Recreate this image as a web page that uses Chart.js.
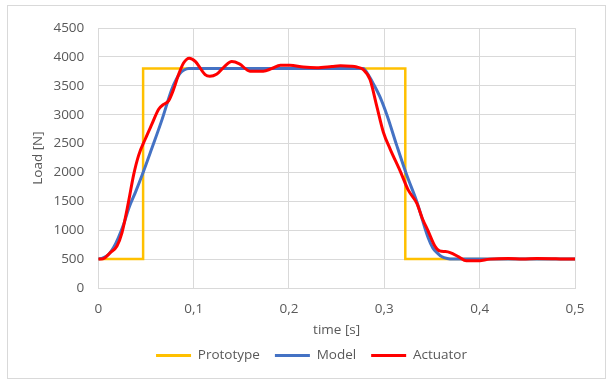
<!DOCTYPE html>
<html>
<head>
<meta charset="utf-8">
<script src="https://cdn.jsdelivr.net/npm/chart.js@4/dist/chart.umd.min.js"></script>
<style>
  html, body { margin: 0; padding: 0; background: #fff; }
  #box {
    position: absolute; left: 7px; top: 5px;
    width: 599px; height: 374px;
    border: 1px solid #d9d9d9; box-sizing: border-box;
  }
  canvas { display: block; }
</style>
</head>
<body>
<div id="box"><canvas id="chart" width="597" height="372"></canvas></div>
<script>
// series
const protoT = [0, 0.047, 0.047, 0.322, 0.322, 0.5]
const protoLoad = [500, 500, 3800, 3800, 500, 500]

const modelT = [0, 0.005, 0.011, 0.016, 0.021, 0.027, 0.032, 0.039, 0.046, 0.056, 0.067, 0.077,
  0.082, 0.086, 0.090, 0.095, 0.278, 0.282, 0.288, 0.295, 0.303, 0.313, 0.3235, 0.334,
  0.346, 0.351, 0.356, 0.360, 0.366, 0.372, 0.5]
const modelLoad = [500, 520, 585, 700, 870, 1120, 1383, 1660, 1955, 2410, 2924, 3438,
  3620, 3724, 3775, 3800, 3800, 3720, 3552, 3325, 2982, 2469, 1955, 1498,
  870, 690, 600, 545, 510, 500, 500]

const actT = [0, 0.005, 0.0126, 0.0196, 0.0248, 0.0318, 0.037, 0.0423, 0.0493, 0.0563, 0.0633,
  0.0685, 0.0737, 0.079, 0.0842, 0.0894, 0.0954, 0.1017, 0.112, 0.117, 0.124, 0.132, 0.140,
  0.148, 0.159, 0.173, 0.182, 0.191, 0.201, 0.215, 0.229, 0.245, 0.254, 0.265, 0.271, 0.278,
  0.285, 0.292, 0.299, 0.306, 0.317, 0.325, 0.334, 0.340, 0.346, 0.353, 0.358, 0.364, 0.369,
  0.378, 0.386, 0.397, 0.411, 0.43, 0.445, 0.46, 0.48, 0.49, 0.5]
const actLoad = [500, 505, 613, 728, 955, 1500, 1955, 2297, 2580, 2840, 3095,
  3180, 3240, 3440, 3695, 3895, 3980, 3925, 3695, 3665, 3700, 3830, 3920,
  3880, 3755, 3755, 3800, 3855, 3855, 3826, 3815, 3835, 3848, 3840, 3826, 3780,
  3609, 3154, 2696, 2410, 2012, 1698, 1469, 1200, 985, 728, 642, 630, 613,
  540, 471, 471, 500, 510, 500, 512, 508, 500, 500]

const seriesNames = ["Prototype", "Model", "Actuator"]
const seriesColors = ["#FFC000", "#4472C4", "#FF0000"]

const xTicks = [0, 0.1, 0.2, 0.3, 0.4, 0.5]
const yTicks = [0, 500, 1000, 1500, 2000, 2500, 3000, 3500, 4000, 4500]

const toXY = (ts, vs) => ts.map((t, i) => ({ x: t, y: vs[i] }))

const textColor = "#595959"
const gridColor = "#d9d9d9"
const font = { family: "'Open Sans', sans-serif", size: 13.5 }

const config = {
    type: "line",
    data: {
        datasets: [
            {
                label: seriesNames[0],
                data: toXY(protoT, protoLoad),
                borderColor: seriesColors[0],
                backgroundColor: seriesColors[0],
                borderWidth: 2.5,
                tension: 0,
                order: 3,
            },
            {
                label: seriesNames[1],
                data: toXY(modelT, modelLoad),
                borderColor: seriesColors[1],
                backgroundColor: seriesColors[1],
                borderWidth: 3,
                cubicInterpolationMode: "monotone",
                order: 2,
            },
            {
                label: seriesNames[2],
                data: toXY(actT, actLoad),
                borderColor: seriesColors[2],
                backgroundColor: seriesColors[2],
                borderWidth: 3,
                cubicInterpolationMode: "monotone",
                order: 1,
            },
        ],
    },
    options: {
        responsive: false,
        animation: false,
        devicePixelRatio: 1,
        elements: { point: { radius: 0 } },
        layout: { padding: { left: 10, right: 0, top: 18, bottom: 5.8 } },
        scales: {
            x: {
                type: "linear",
                min: 0,
                max: 0.5,
                afterBuildTicks: s => { s.ticks = xTicks.map(v => ({ value: v })) },
                afterFit: s => { s.height = 45.7; s.paddingRight = 30 },
                grid: { color: gridColor, drawTicks: false },
                border: { color: gridColor },
                ticks: {
                    padding: 13,
                    color: textColor,
                    font: font,
                    callback: v => v === 0 ? "0" : v.toFixed(1).replace(".", ","),
                },
                title: {
                    display: true,
                    text: "time [s]",
                    color: textColor,
                    font: font,
                    padding: { top: 0, bottom: -4.6 },
                },
            },
            y: {
                min: 0,
                max: 4500,
                afterBuildTicks: s => { s.ticks = yTicks.map(v => ({ value: v })) },
                afterFit: s => { s.width = 80.3 },
                grid: { color: gridColor, drawTicks: false },
                border: { color: gridColor },
                ticks: {
                    padding: 14,
                    color: textColor,
                    font: font,
                    callback: v => String(v),
                },
                title: {
                    display: true,
                    text: "Load [N]",
                    color: textColor,
                    font: font,
                    padding: { top: 12.2, bottom: 0 },
                },
            },
        },
        plugins: {
            tooltip: { enabled: false },
            legend: {
                position: "bottom",
                labels: {
                    boxWidth: 35,
                    boxHeight: 3,
                    padding: 15,
                    color: textColor,
                    font: font,
                    generateLabels: chart => chart.data.datasets.map((ds, i) => ({
                        text: ds.label,
                        fillStyle: ds.borderColor,
                        strokeStyle: ds.borderColor,
                        fontColor: textColor,
                        lineWidth: 0,
                        hidden: false,
                        datasetIndex: i,
                    })),
                },
            },
        },
    },
}

const chart = new Chart(document.getElementById("chart").getContext("2d"), config)
</script>
</body>
</html>
